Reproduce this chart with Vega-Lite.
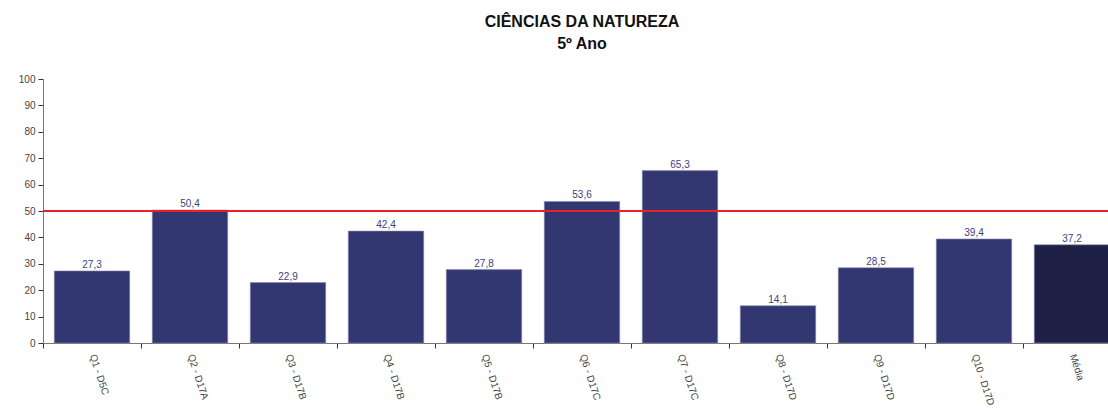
{
  "$schema": "https://vega.github.io/schema/vega-lite/v6.json",
  "autosize": "none",
  "padding": {"left": 43, "top": 79, "right": 0, "bottom": 66},
  "width": 1078,
  "height": 264,
  "background": "white",
  "title": {
    "text": ["CIÊNCIAS DA NATUREZA", "5º Ano"],
    "anchor": "middle",
    "font": "Liberation Sans",
    "fontSize": 16,
    "fontWeight": "bold",
    "lineHeight": 22,
    "color": "#111111",
    "offset": 22
  },
  "config": {
    "view": {"stroke": null},
    "locale": {"number": {"decimal": ",", "thousands": ".", "grouping": [3], "currency": ["R$", ""]}}
  },
  "data": {
    "values": [
      {"q": "Q1 - D5C", "v": 27.3, "tipo": "questao"},
      {"q": "Q2 - D17A", "v": 50.4, "tipo": "questao"},
      {"q": "Q3 - D17B", "v": 22.9, "tipo": "questao"},
      {"q": "Q4 - D17B", "v": 42.4, "tipo": "questao"},
      {"q": "Q5 - D17B", "v": 27.8, "tipo": "questao"},
      {"q": "Q6 - D17C", "v": 53.6, "tipo": "questao"},
      {"q": "Q7 - D17C", "v": 65.3, "tipo": "questao"},
      {"q": "Q8 - D17D", "v": 14.1, "tipo": "questao"},
      {"q": "Q9 - D17D", "v": 28.5, "tipo": "questao"},
      {"q": "Q10 - D17D", "v": 39.4, "tipo": "questao"},
      {"q": "Média", "v": 37.2, "tipo": "media"}
    ]
  },
  "encoding": {
    "x": {
      "field": "q",
      "type": "nominal",
      "sort": null,
      "scale": {"paddingInner": 0, "paddingOuter": 0},
      "axis": {
        "title": null,
        "labelAngle": 72,
        "labelFont": "Liberation Sans",
        "labelFontSize": 10,
        "labelColor": "#444444",
        "labelPadding": 6,
        "tickBand": "extent",
        "tickSize": 5,
        "tickColor": "#333333",
        "domainColor": "#777777",
        "labelOverlap": false
      }
    },
    "y": {
      "field": "v",
      "type": "quantitative",
      "scale": {"domain": [0, 100], "nice": false},
      "axis": {
        "title": null,
        "values": [0, 10, 20, 30, 40, 50, 60, 70, 80, 90, 100],
        "grid": false,
        "labelFont": "Liberation Sans",
        "labelFontSize": 10,
        "labelColor": "#444444",
        "tickSize": 5,
        "tickColor": "#333333",
        "domainColor": "#777777",
        "labelPadding": 3
      }
    }
  },
  "layer": [
    {
      "mark": {"type": "bar", "width": {"band": 0.77}, "stroke": "#8a8db0", "strokeWidth": 0.6},
      "encoding": {
        "color": {
          "field": "tipo",
          "type": "nominal",
          "scale": {"domain": ["questao", "media"], "range": ["#333771", "#1f2046"]},
          "legend": null
        }
      }
    },
    {
      "mark": {"type": "text", "baseline": "bottom", "dy": -1, "font": "Liberation Sans", "fontSize": 10, "color": "#3a3f80"},
      "encoding": {"text": {"field": "v", "type": "quantitative", "format": ".1f"}}
    },
    {
      "mark": {"type": "rule", "color": "#e8202a", "strokeWidth": 1},
      "encoding": {"y": {"datum": 50}, "x": null}
    }
  ]
}
